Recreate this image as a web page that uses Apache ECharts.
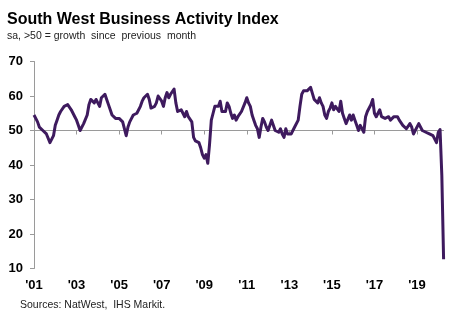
<!DOCTYPE html>
<html>
<head>
<meta charset="utf-8">
<script src="https://cdn.jsdelivr.net/npm/echarts@6/dist/echarts.min.js"></script>
<style>
html,body{margin:0;padding:0;background:#fff;}
#chart{width:460px;height:322px;}
</style>
</head>
<body>
<div id="chart"></div>
<script>
// Monthly index values, Jan 2001 - Apr 2020
const v2001 = [54.5, 53.5, 52.5, 51, 50.5, 50, 49.5, 49, 48.5, 46.5, 47, 48.5];
const v2002 = [51.5, 53, 54.5, 55.5, 56, 57, 57.5, 57.5, 57, 56, 55, 54];
const v2003 = [53, 51.5, 50, 49.5, 52, 52.5, 54.5, 57.5, 59, 58.5, 58, 59];
const v2004 = [58, 57, 59.5, 60, 60.5, 59, 57.5, 56, 54.5, 54, 53.5, 53.5];
const v2005 = [53.5, 53, 52.5, 52, 48.5, 51, 52.5, 53.5, 54.5, 54, 55, 55.5];
const v2006 = [57, 58.5, 59.5, 60, 60.5, 59, 56.5, 56, 57, 58, 60, 60];
const v2007 = [58.5, 57, 59.5, 61, 59.5, 60.5, 61, 62, 58, 55.5, 55, 56];
const v2008 = [56, 54, 55.5, 54, 54.5, 52.5, 48, 47, 47.5, 46.5, 45, 43];
const v2009 = [42, 43, 40.5, 46, 53, 55, 57, 56.5, 57, 58.5, 55.5, 55];
const v2010 = [55.5, 58, 57, 55, 53.5, 54.5, 53, 54, 54.5, 55.5, 56, 58];
const v2011 = [59.5, 58, 57, 54.5, 53, 51.5, 50.5, 48, 51, 53.5, 52.5, 51];
const v2012 = [50, 49.5, 53, 53.5, 50, 49.5, 49.5, 50.5, 49, 48, 50.5, 49];
const v2013 = [49.5, 49, 50, 51, 51, 53, 57, 60.5, 61.5, 61, 61.5, 62];
const v2014 = [62.5, 63, 59, 58.5, 58, 59.5, 58, 57, 54.5, 53.5, 55.5, 56.5];
const v2015 = [58, 56, 57, 57.5, 55.5, 58.5, 55, 53.5, 52, 52.5, 54.5, 53];
const v2016 = [54.5, 53, 51.5, 50, 51.5, 51, 49.5, 54, 55.5, 56, 57.5, 59];
const v2017 = [55, 54, 54.5, 56, 54, 53.5, 53.5, 53, 54, 53, 53.5, 54];
const v2018 = [54.5, 54, 53, 52.5, 51.5, 51, 50.5, 51, 52, 51, 49, 50];
const v2019 = [50.5, 52, 51.5, 50, 49.5, 49.5, 49, 49, 48.5, 48.5, 48, 46.5];
const v2020 = [49.5, 50.3, 37, 12.7];

const years = ['2001','2002','2003','2004','2005','2006','2007','2008','2009','2010',
               '2011','2012','2013','2014','2015','2016','2017','2018','2019','2020'];
const tickLabels = ["'01","'03","'05","'07","'09","'11","'13","'15","'17","'19"];

const yearly = [v2001,v2002,v2003,v2004,v2005,v2006,v2007,v2008,v2009,v2010,
                v2011,v2012,v2013,v2014,v2015,v2016,v2017,v2018,v2019,v2020];
const values = [];
const categories = [];
yearly.forEach((arr, yi) => {
  arr.forEach((v, m) => {
    values.push(v);
    categories.push(years[yi] + '-' + String(m + 1).padStart(2, '0'));
  });
});

const tickSet = {};
tickLabels.forEach(t => { tickSet['20' + t.slice(1) + '-01'] = t; });
const isTick = (idx) => categories[idx] in tickSet;

const FONT = 'Liberation Sans, Arial, sans-serif';
const chart = echarts.init(document.getElementById('chart'), null, {renderer: 'canvas'});
chart.setOption({
  animation: false,
  backgroundColor: '#ffffff',
  grid: {left: 34, right: 16.4, top: 61.5, bottom: 53.5, containLabel: false},
  graphic: [
    {type: 'text', left: 7, top: 12, style: {text: 'South West Business Activity Index', font: 'bold 16px ' + FONT, fill: '#000'}},
    {type: 'text', left: 7, top: 31, style: {text: 'sa, >50 = growth  since  previous  month', font: '10.5px ' + FONT, fill: '#222'}},
    {type: 'text', left: 20, top: 300, style: {text: 'Sources: NatWest,  IHS Markit.', font: '10.5px ' + FONT, fill: '#222'}}
  ],
  xAxis: [
    {
      type: 'category', data: categories, boundaryGap: false, position: 'bottom',
      axisLine: {show: false}, axisTick: {show: false}, splitLine: {show: false},
      axisLabel: {
        interval: (i) => isTick(i),
        formatter: (v) => tickSet[v] || '',
        fontFamily: FONT, fontWeight: 'bold', fontSize: 13, color: '#000', margin: 10
      }
    },
    {
      type: 'category', data: categories, boundaryGap: false, position: 'bottom', offset: -138,
      axisLine: {show: true, lineStyle: {color: '#9a9a9a', width: 1}},
      axisTick: {show: true, interval: (i) => isTick(i), length: 4, lineStyle: {color: '#9a9a9a'}},
      axisLabel: {show: false}, splitLine: {show: false}
    }
  ],
  yAxis: {
    type: 'value', min: 10, max: 70, interval: 10,
    axisLine: {show: true, lineStyle: {color: '#9a9a9a', width: 1}},
    axisTick: {show: true, length: 4, lineStyle: {color: '#9a9a9a'}},
    splitLine: {show: false},
    axisLabel: {fontFamily: FONT, fontWeight: 'bold', fontSize: 13, color: '#000', margin: 11}
  },
  series: [{
    type: 'line', xAxisIndex: 0, data: values, showSymbol: false, symbol: 'none',
    lineStyle: {color: '#3e1a5e', width: 3, join: 'round'}, z: 5
  }]
});
</script>
</body>
</html>
